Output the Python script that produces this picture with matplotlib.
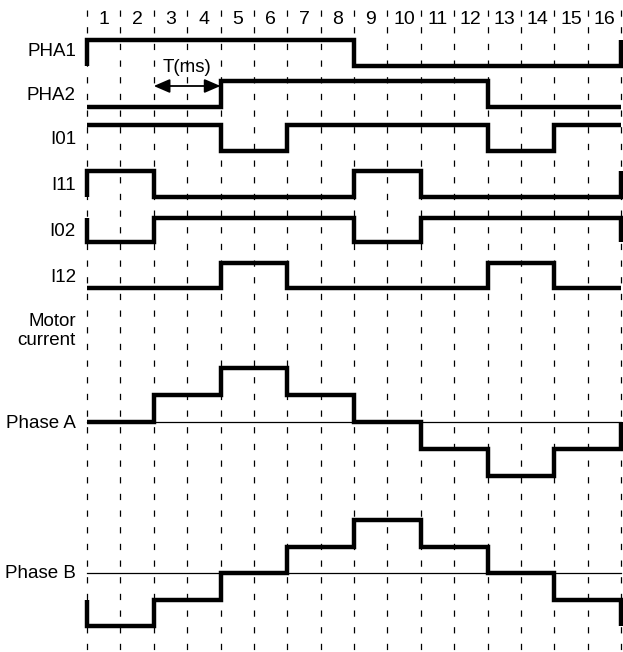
import matplotlib
matplotlib.use("Agg")
import matplotlib.pyplot as plt

plt.rcParams['font.family'] = ['Liberation Sans', 'DejaVu Sans']
plt.rcParams['lines.scale_dashes'] = False

# interval numbers along the top
steps = [str(i) for i in range(1, 17)]

# logic signals: level per interval (1 = high), plus the level before / after the window
digital_names = ["PHA1", "PHA2", "I01", "I11", "I02", "I12"]
pha1 = [1, 1, 1, 1, 1, 1, 1, 1, 0, 0, 0, 0, 0, 0, 0, 0]
pha2 = [0, 0, 0, 0, 1, 1, 1, 1, 1, 1, 1, 1, 0, 0, 0, 0]
i01 = [1, 1, 1, 1, 0, 0, 1, 1, 1, 1, 1, 1, 0, 0, 1, 1]
i11 = [1, 1, 0, 0, 0, 0, 0, 0, 1, 1, 0, 0, 0, 0, 0, 0]
i02 = [0, 0, 1, 1, 1, 1, 1, 1, 0, 0, 1, 1, 1, 1, 1, 1]
i12 = [0, 0, 0, 0, 1, 1, 0, 0, 0, 0, 0, 0, 1, 1, 0, 0]
digital_levels = [pha1, pha2, i01, i11, i02, i12]
digital_lead = [0, None, None, 0, 1, None]
digital_tail = [1, None, None, 1, 0, None]

# motor current staircases (relative current steps)
phase_a = [0, 0, 1, 1, 2, 2, 1, 1, 0, 0, -1, -1, -2, -2, -1, -1]
phase_b = [-2, -2, -1, -1, 0, 0, 1, 1, 2, 2, 1, 1, 0, 0, -1, -1]
phase_lead = [None, -1]
phase_tail = [0, -2]

# layout (figure pixel rows)
W, H = 623, 652
x0, dx = 87, 33.375
digital_rows = [(40, 65.5), (81, 107), (125, 151), (171, 197), (217.5, 242), (262.5, 288)]
digital_label_y = [52, 96, 139, 185, 231, 277]
phase_zero = [422, 573]
phase_step = [27, 26.5]

fig = plt.figure(figsize=(W / 100, H / 100), dpi=100)
ax = fig.add_axes([0, 0, 1, 1])
ax.set_xlim(-x0 / dx, (W - x0) / dx)
ax.set_ylim(H, 0)
ax.axis('off')

n = len(steps)
# dashed interval boundaries
for k in range(n + 1):
    ax.plot([k, k], [10, H], color='black', lw=0.9, linestyle=(0, (4.5, 7.5)))

for k, s in enumerate(steps):
    ax.text(k + 0.5, 20, s, ha='center', va='center', fontsize=14)


def step_path(levels, lead, tail):
    xs, ys = [], []
    if lead is not None:
        xs.append(0)
        ys.append(lead)
    for i, v in enumerate(levels):
        xs += [i, i + 1]
        ys += [v, v]
    if tail is not None:
        xs.append(len(levels))
        ys.append(tail)
    return xs, ys


thick = dict(color='black', lw=3.2, solid_joinstyle='miter', solid_capstyle='butt')
lab_x = -11 / dx
fs = 13.5

for name, lv, lead, tail, (hi, lo), ly in zip(digital_names, digital_levels, digital_lead,
                                              digital_tail, digital_rows, digital_label_y):
    xs, ys = step_path(lv, lead, tail)
    ax.plot(xs, [lo - v * (lo - hi) for v in ys], **thick)
    ax.text(lab_x, ly, name, ha='right', va='center', fontsize=fs)

ax.text(lab_x, 331, "Motor\ncurrent", ha='right', va='center', fontsize=fs, linespacing=1.2)

for name, lv, lead, tail, z, st in zip(["Phase A", "Phase B"], [phase_a, phase_b],
                                       phase_lead, phase_tail, phase_zero, phase_step):
    ax.plot([0, n], [z, z], color='black', lw=0.9)
    xs, ys = step_path(lv, lead, tail)
    ax.plot(xs, [z - v * st for v in ys], **thick)
    ax.text(lab_x, z + 1, name, ha='right', va='center', fontsize=fs)

# period arrow
ax.annotate('', xy=(2, 86), xytext=(4, 86),
            arrowprops=dict(arrowstyle='<|-|>,head_length=0.65,head_width=0.28', color='black',
                            lw=1.3, mutation_scale=15, shrinkA=0, shrinkB=0))
ax.text(3, 68, "T(ms)", ha='center', va='center', fontsize=fs)

fig.savefig("out.png", dpi=100)
